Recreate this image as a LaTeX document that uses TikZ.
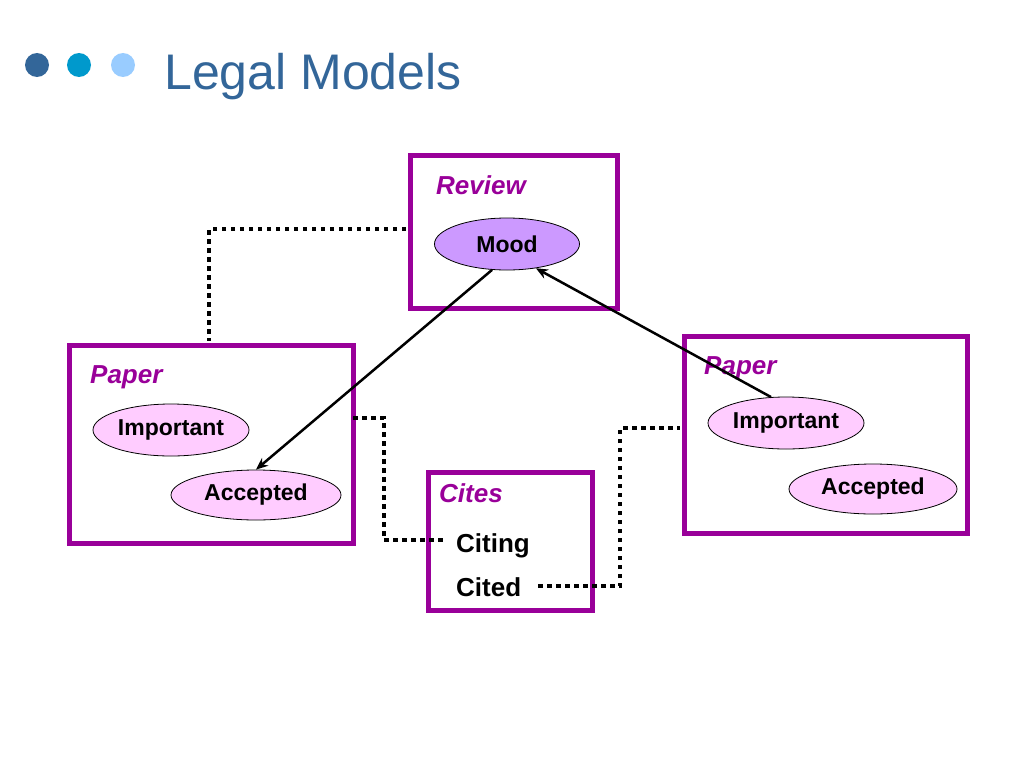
\documentclass[tikz,border=0pt]{standalone}
\usepackage{fontspec}
\setmainfont{Liberation Sans}
\usetikzlibrary{shapes.geometric,arrows.meta}
\definecolor{pur}{HTML}{990099}
\definecolor{ttl}{HTML}{336699}
\definecolor{dotb}{HTML}{0099CC}
\definecolor{dotc}{HTML}{99CCFF}
\definecolor{moodc}{HTML}{CC99FF}
\definecolor{pink}{HTML}{FFCCFF}
\begin{document}
\begin{tikzpicture}[x=1pt,y=-1pt,
 box/.style={draw=pur,line width=4.5pt,rectangle,inner sep=0pt},
 ell/.style={draw=black,ellipse,line width=0.8pt,inner sep=0pt,font=\fontsize{23}{26}\selectfont\bfseries},
 lbl/.style={anchor=base west,text=pur,font=\fontsize{26}{30}\selectfont\bfseries\itshape,inner sep=0pt},
 dots/.style={line width=4.5pt,dash pattern=on 4.5pt off 4.5pt},
 arr/.style={line width=2.5pt,-{Stealth[length=12pt,width=10pt]}}]
\useasboundingbox (0,0) rectangle (1024,768);
\fill[ttl] (37,65) circle (12);
\fill[dotb] (79,65) circle (12);
\fill[dotc] (123,65) circle (12);
\node[anchor=base west,text=ttl,font=\fontsize{50}{55}\selectfont,inner sep=0pt] (title) at (164,89) {Legal Models};
% boxes
\node[box,minimum width=207,minimum height=153,anchor=north west] (rev) at (408,153) {};
\node[box,minimum width=284,minimum height=198,anchor=north west] (pl) at (67,343) {};
\node[box,minimum width=283,minimum height=197,anchor=north west] (pr) at (682,334) {};
\node[box,minimum width=164,minimum height=138,anchor=north west] (cit) at (426,470) {};
\node[lbl] (lrev) at (436,194) {Review};
\node[lbl] (lpl) at (90,383) {Paper};
\node[lbl] (lpr) at (704,374) {Paper};
\node[lbl] (lcit) at (439,502) {Cites};
\node[ell,fill=moodc,minimum width=145,minimum height=52] (mood) at (507,244) {Mood};
\node[ell,fill=pink,minimum width=156,minimum height=52] (impl) at (171,430) {Important};
\node[ell,fill=pink,minimum width=170,minimum height=50] (accl) at (256,495) {Accepted};
\node[ell,fill=pink,minimum width=156,minimum height=52] (impr) at (786,423) {Important};
\node[ell,fill=pink,minimum width=168,minimum height=50] (accr) at (873,489) {Accepted};
\node[anchor=base west,font=\fontsize{26}{30}\selectfont\bfseries,inner sep=0pt] (citing) at (456,552) {Citing};
\node[anchor=base west,font=\fontsize{26}{30}\selectfont\bfseries,inner sep=0pt] (cited) at (456,596) {Cited};
% arrows
\draw[arr] (mood.240) -- (accl.north);
\draw[arr] (impr.120) -- (mood.-40);
% dotted links
\draw[dots] (406,229) -- (209,229) -- (209,341);
\draw[dots] (353,418) -- (384,418) -- (384,540) -- (444,540);
\draw[dots] (538,586) -- (620,586) -- (620,428) -- (680,428);
\end{tikzpicture}
\end{document}
